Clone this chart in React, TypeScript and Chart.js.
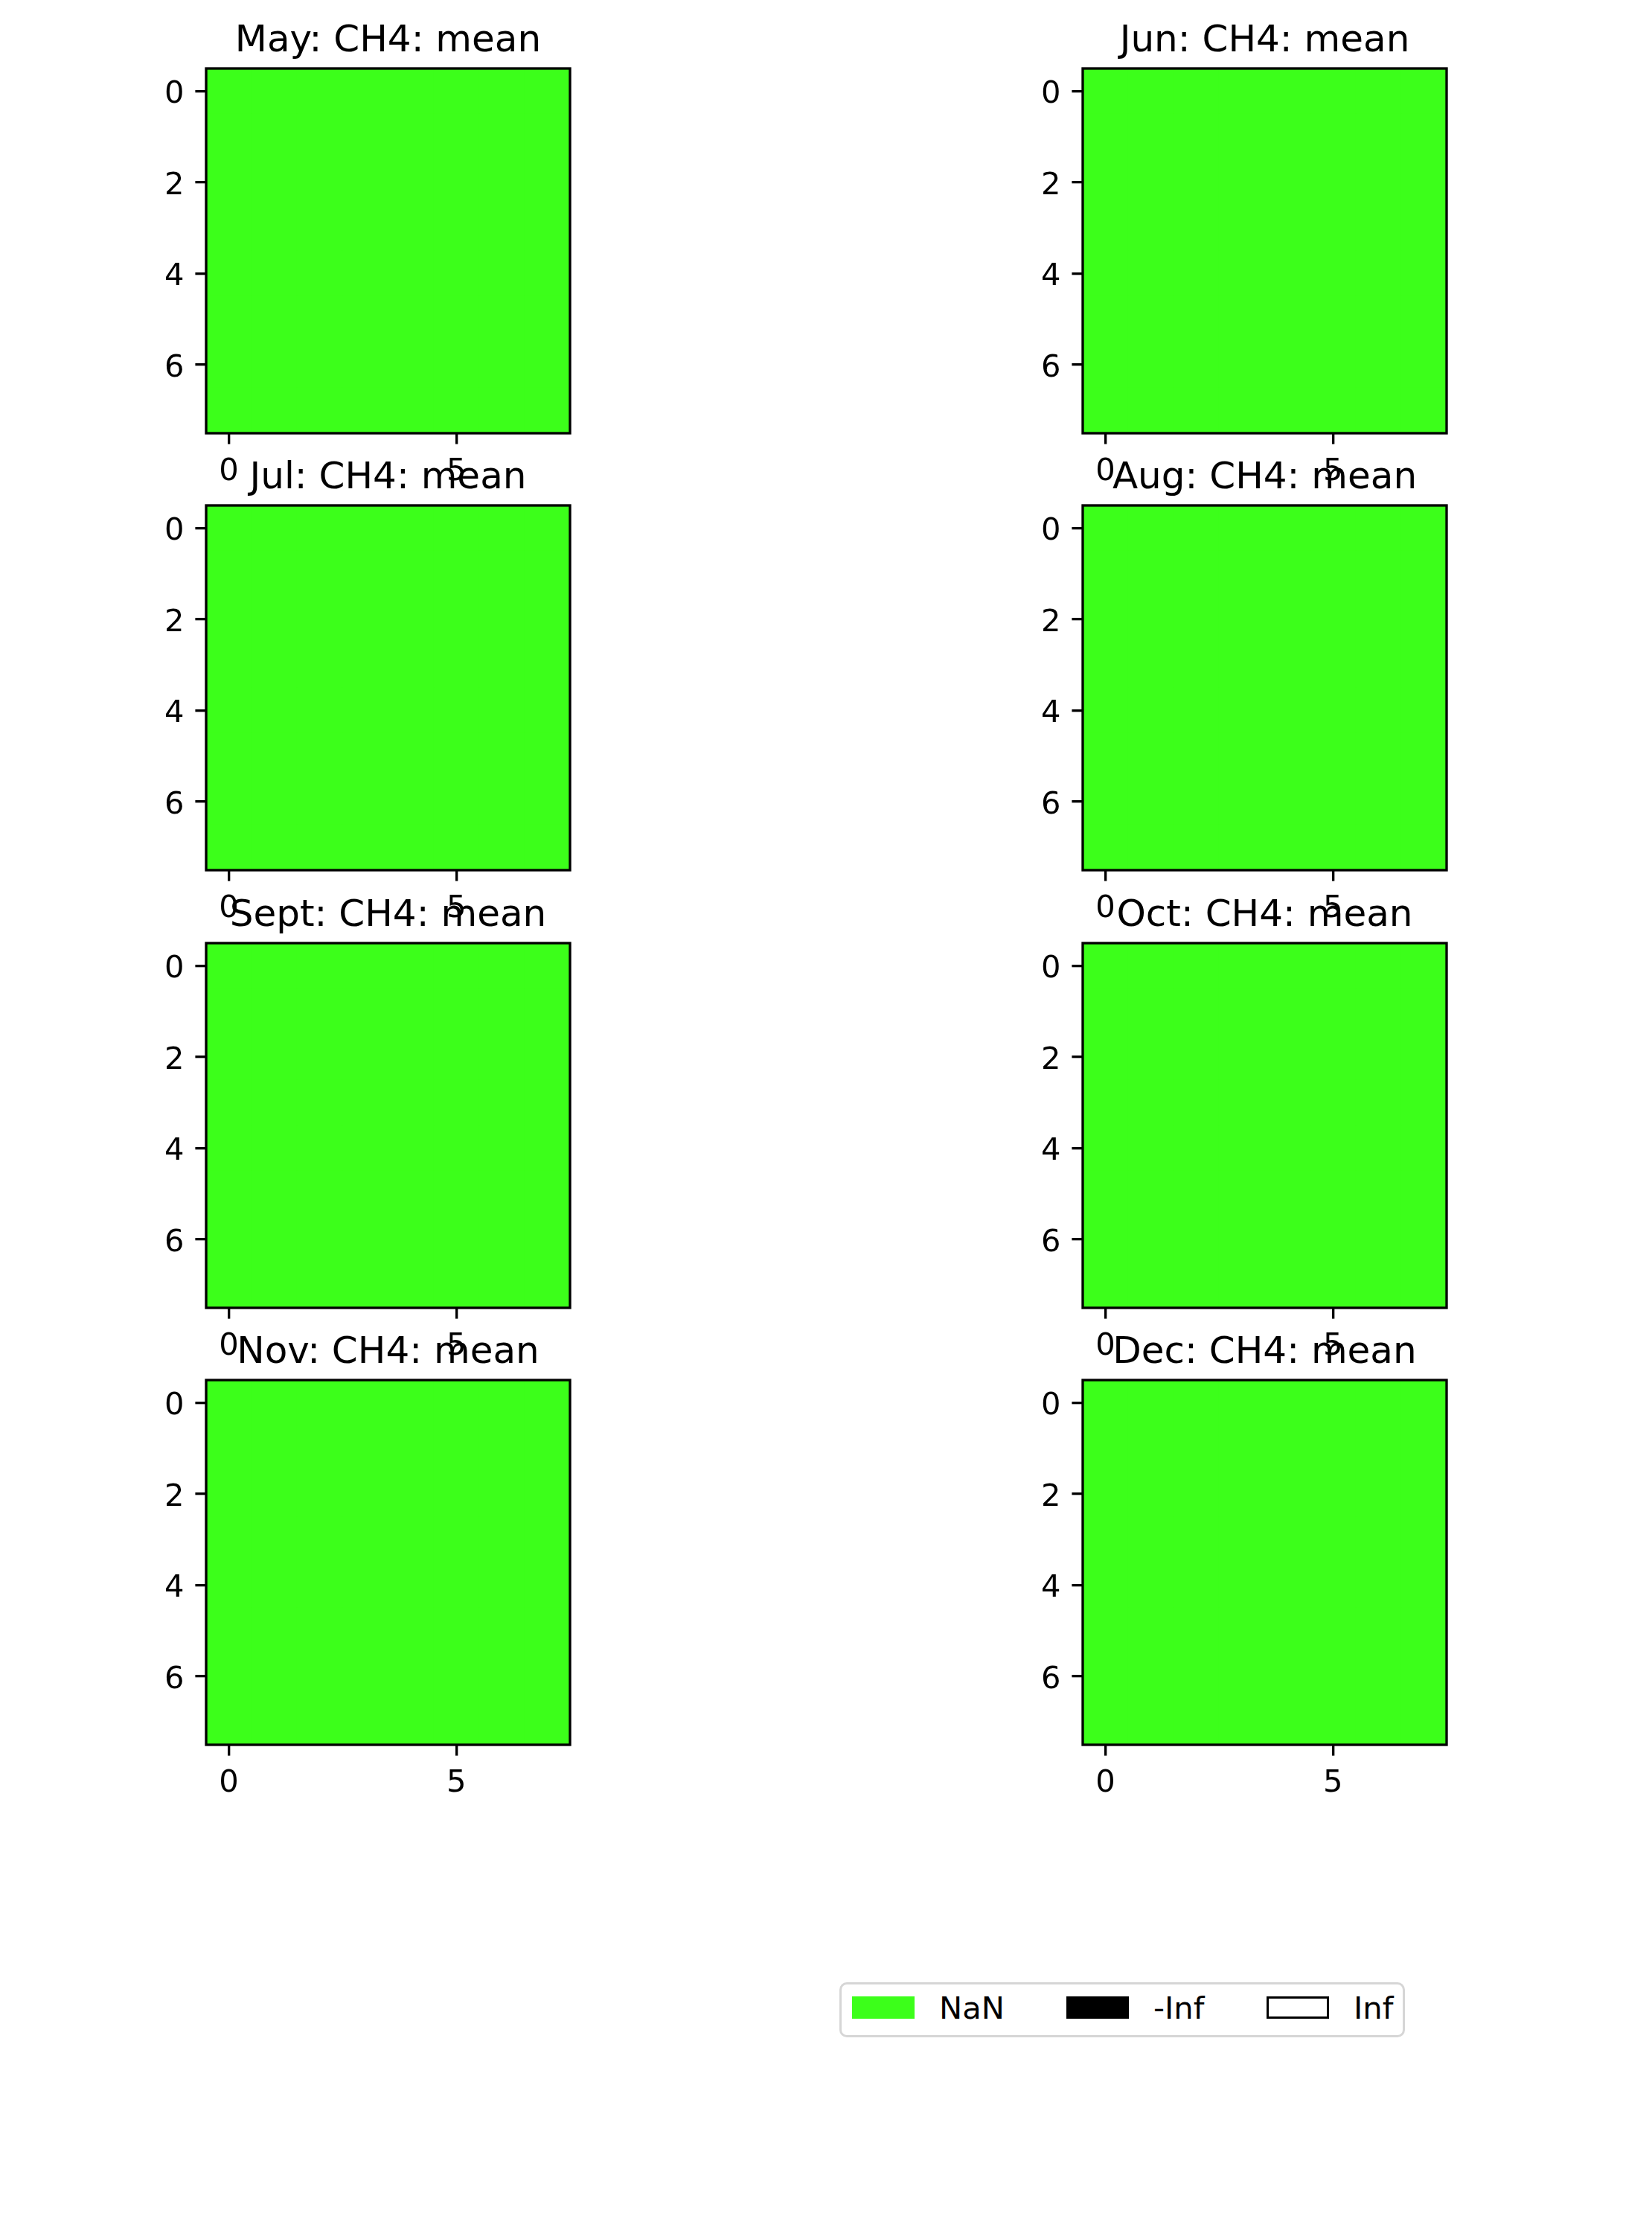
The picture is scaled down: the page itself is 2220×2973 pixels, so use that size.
import React, { useEffect, useRef } from 'react';
import { Chart, registerables } from 'chart.js';

Chart.register(...registerables);

const FONT = '"DejaVu Sans", "Liberation Sans", sans-serif';

// ---------- data ----------
const monthLabels = ['May', 'Jun', 'Jul', 'Aug', 'Sept', 'Oct', 'Nov', 'Dec'];
const variableName = 'CH4';
const statisticName = 'mean';
const xTickValues = [0, 5];
const yTickValues = [0, 2, 4, 6];
const gridColumns = [0, 1, 2, 3, 4, 5, 6, 7];
const gridRows = [0, 1, 2, 3, 4, 5, 6, 7];
// every cell of every month is NaN in the reference
const ch4MeanGrid = [
  [NaN, NaN, NaN, NaN, NaN, NaN, NaN, NaN],
  [NaN, NaN, NaN, NaN, NaN, NaN, NaN, NaN],
  [NaN, NaN, NaN, NaN, NaN, NaN, NaN, NaN],
  [NaN, NaN, NaN, NaN, NaN, NaN, NaN, NaN],
  [NaN, NaN, NaN, NaN, NaN, NaN, NaN, NaN],
  [NaN, NaN, NaN, NaN, NaN, NaN, NaN, NaN],
  [NaN, NaN, NaN, NaN, NaN, NaN, NaN, NaN],
  [NaN, NaN, NaN, NaN, NaN, NaN, NaN, NaN],
];
const legendLabels = ['NaN', '-Inf', 'Inf'];
const legendFills = ['#3cff1a', '#000000', '#ffffff'];
const legendEdges = ['#3cff1a', '#000000', '#000000'];

// ---------- styling / layout ----------
const NAN_COLOR = '#3cff1a';
const NEG_INF_COLOR = '#000000';
const POS_INF_COLOR = '#ffffff';
const AX_W = 489;
const AX_H = 490;
const COL_LEFTS = [277, 1455];
const ROW_TOPS = [92, 679, 1267, 1854];
const PAD_L = 200;
const PAD_T = 110;
const PAD_R = 60;
const PAD_B = 100;
const TICK_FONT_SIZE = 41.67;
const TITLE_FONT_SIZE = 50;
const LINE_W = 3.33;
const TICK_LEN = 14.6;

function colorFor(v: number): string {
  if (Number.isNaN(v)) return NAN_COLOR;
  if (v === -Infinity) return NEG_INF_COLOR;
  if (v === Infinity) return POS_INF_COLOR;
  return '#888888';
}

const cellPlugin = {
  id: 'cells',
  beforeDatasetsDraw(chart: any) {
    const { ctx, chartArea } = chart;
    const xs = chart.scales.x;
    const ys = chart.scales.y;
    const pts = chart.data.datasets[0].data as any[];
    ctx.save();
    ctx.beginPath();
    ctx.rect(chartArea.left, chartArea.top, chartArea.right - chartArea.left, chartArea.bottom - chartArea.top);
    ctx.clip();
    pts.forEach((p) => {
      const x0 = xs.getPixelForValue(p.x - 0.5);
      const x1 = xs.getPixelForValue(p.x + 0.5);
      const y0 = ys.getPixelForValue(p.y - 0.5);
      const y1 = ys.getPixelForValue(p.y + 0.5);
      ctx.fillStyle = colorFor(p.v);
      ctx.fillRect(Math.min(x0, x1) - 0.5, Math.min(y0, y1) - 0.5, Math.abs(x1 - x0) + 1, Math.abs(y1 - y0) + 1);
    });
    ctx.restore();
  },
  afterDraw(chart: any, _args: any, opts: any) {
    const { ctx, chartArea } = chart;
    ctx.save();
    ctx.strokeStyle = '#000';
    ctx.lineWidth = LINE_W;
    ctx.lineJoin = 'miter';
    ctx.strokeRect(chartArea.left, chartArea.top, chartArea.right - chartArea.left, chartArea.bottom - chartArea.top);
    ctx.fillStyle = '#000';
    ctx.font = `${TITLE_FONT_SIZE}px ${FONT}`;
    ctx.textAlign = 'center';
    ctx.textBaseline = 'alphabetic';
    ctx.fillText(opts.title || '', (chartArea.left + chartArea.right) / 2, chartArea.top - 23);
    ctx.restore();
  },
};

function Panel({ month, left, top }: { month: string; left: number; top: number }) {
  const ref = useRef<HTMLCanvasElement>(null);
  const W = PAD_L + AX_W + PAD_R;
  const H = PAD_T + AX_H + PAD_B;
  useEffect(() => {
    if (!ref.current) return;
    const points: any[] = [];
    gridRows.forEach((r) =>
      gridColumns.forEach((c) => points.push({ x: c, y: r, v: ch4MeanGrid[r][c] }))
    );
    const tickFont = { family: FONT, size: TICK_FONT_SIZE };
    const gridCfg = {
      display: true,
      drawOnChartArea: false,
      drawTicks: true,
      tickLength: TICK_LEN,
      lineWidth: LINE_W,
      color: '#000',
    };
    const chart = new Chart(ref.current, {
      type: 'scatter',
      data: { datasets: [{ data: points, pointRadius: 0, pointHoverRadius: 0 }] },
      options: {
        animation: false,
        responsive: false,
        devicePixelRatio: 1,
        events: [],
        layout: { padding: { left: 0, top: PAD_T, right: PAD_R, bottom: 0 } },
        plugins: {
          legend: { display: false },
          tooltip: { enabled: false },
          title: { display: false },
          cells: { title: `${month}: ${variableName}: ${statisticName}` },
        } as any,
        scales: {
          x: {
            type: 'linear',
            min: -0.5,
            max: 7.5,
            afterBuildTicks: (s: any) => {
              s.ticks = xTickValues.map((v) => ({ value: v }));
            },
            afterFit: (s: any) => {
              s.height = PAD_B;
            },
            grid: gridCfg,
            border: { display: false },
            ticks: {
              font: tickFont,
              color: '#000',
              padding: 13,
              maxRotation: 0,
              autoSkip: false,
              callback: (v: any) => String(v),
            },
          },
          y: {
            type: 'linear',
            reverse: true,
            min: -0.5,
            max: 7.5,
            afterBuildTicks: (s: any) => {
              s.ticks = yTickValues.map((v) => ({ value: v }));
            },
            afterFit: (s: any) => {
              s.width = PAD_L;
            },
            grid: gridCfg,
            border: { display: false },
            ticks: {
              font: tickFont,
              color: '#000',
              padding: 15,
              labelOffset: 5,
              autoSkip: false,
              callback: (v: any) => String(v),
            },
          },
        },
      } as any,
      plugins: [cellPlugin],
    });
    return () => chart.destroy();
  }, [month]);
  return (
    <canvas
      ref={ref}
      width={W}
      height={H}
      style={{ position: 'absolute', left: left - PAD_L, top: top - PAD_T, width: W, height: H }}
    />
  );
}

function Legend() {
  const patchLefts = [1145, 1433, 1702];
  const textLefts = [1262, 1550, 1819];
  return (
    <>
      <div
        style={{
          position: 'absolute',
          left: 1128,
          top: 2663,
          width: 760,
          height: 74,
          boxSizing: 'border-box',
          border: `${LINE_W}px solid #d6d6d6`,
          borderRadius: 10,
          background: 'rgba(255,255,255,0.8)',
        }}
      />
      {legendLabels.map((lab, i) => (
        <React.Fragment key={lab}>
          <div
            style={{
              position: 'absolute',
              left: patchLefts[i],
              top: 2682,
              width: 84,
              height: 30,
              boxSizing: 'border-box',
              background: legendFills[i],
              border: `${LINE_W}px solid ${legendEdges[i]}`,
            }}
          />
          <div
            style={{
              position: 'absolute',
              left: textLefts[i],
              top: 2677,
              fontFamily: FONT,
              fontSize: TICK_FONT_SIZE,
              lineHeight: '42px',
              color: '#000',
              whiteSpace: 'nowrap',
            }}
          >
            {lab}
          </div>
        </React.Fragment>
      ))}
    </>
  );
}

export default function App() {
  useEffect(() => {
    document.body.style.margin = '0';
    document.body.style.overflow = 'hidden';
  }, []);
  return (
    <div
      style={{
        position: 'absolute',
        left: 0,
        top: 0,
        width: 2220,
        height: 2973,
        overflow: 'hidden',
        background: '#fff',
      }}
    >
      {monthLabels.map((m, i) => (
        <Panel key={m} month={m} left={COL_LEFTS[i % 2]} top={ROW_TOPS[Math.floor(i / 2)]} />
      ))}
      <Legend />
    </div>
  );
}
